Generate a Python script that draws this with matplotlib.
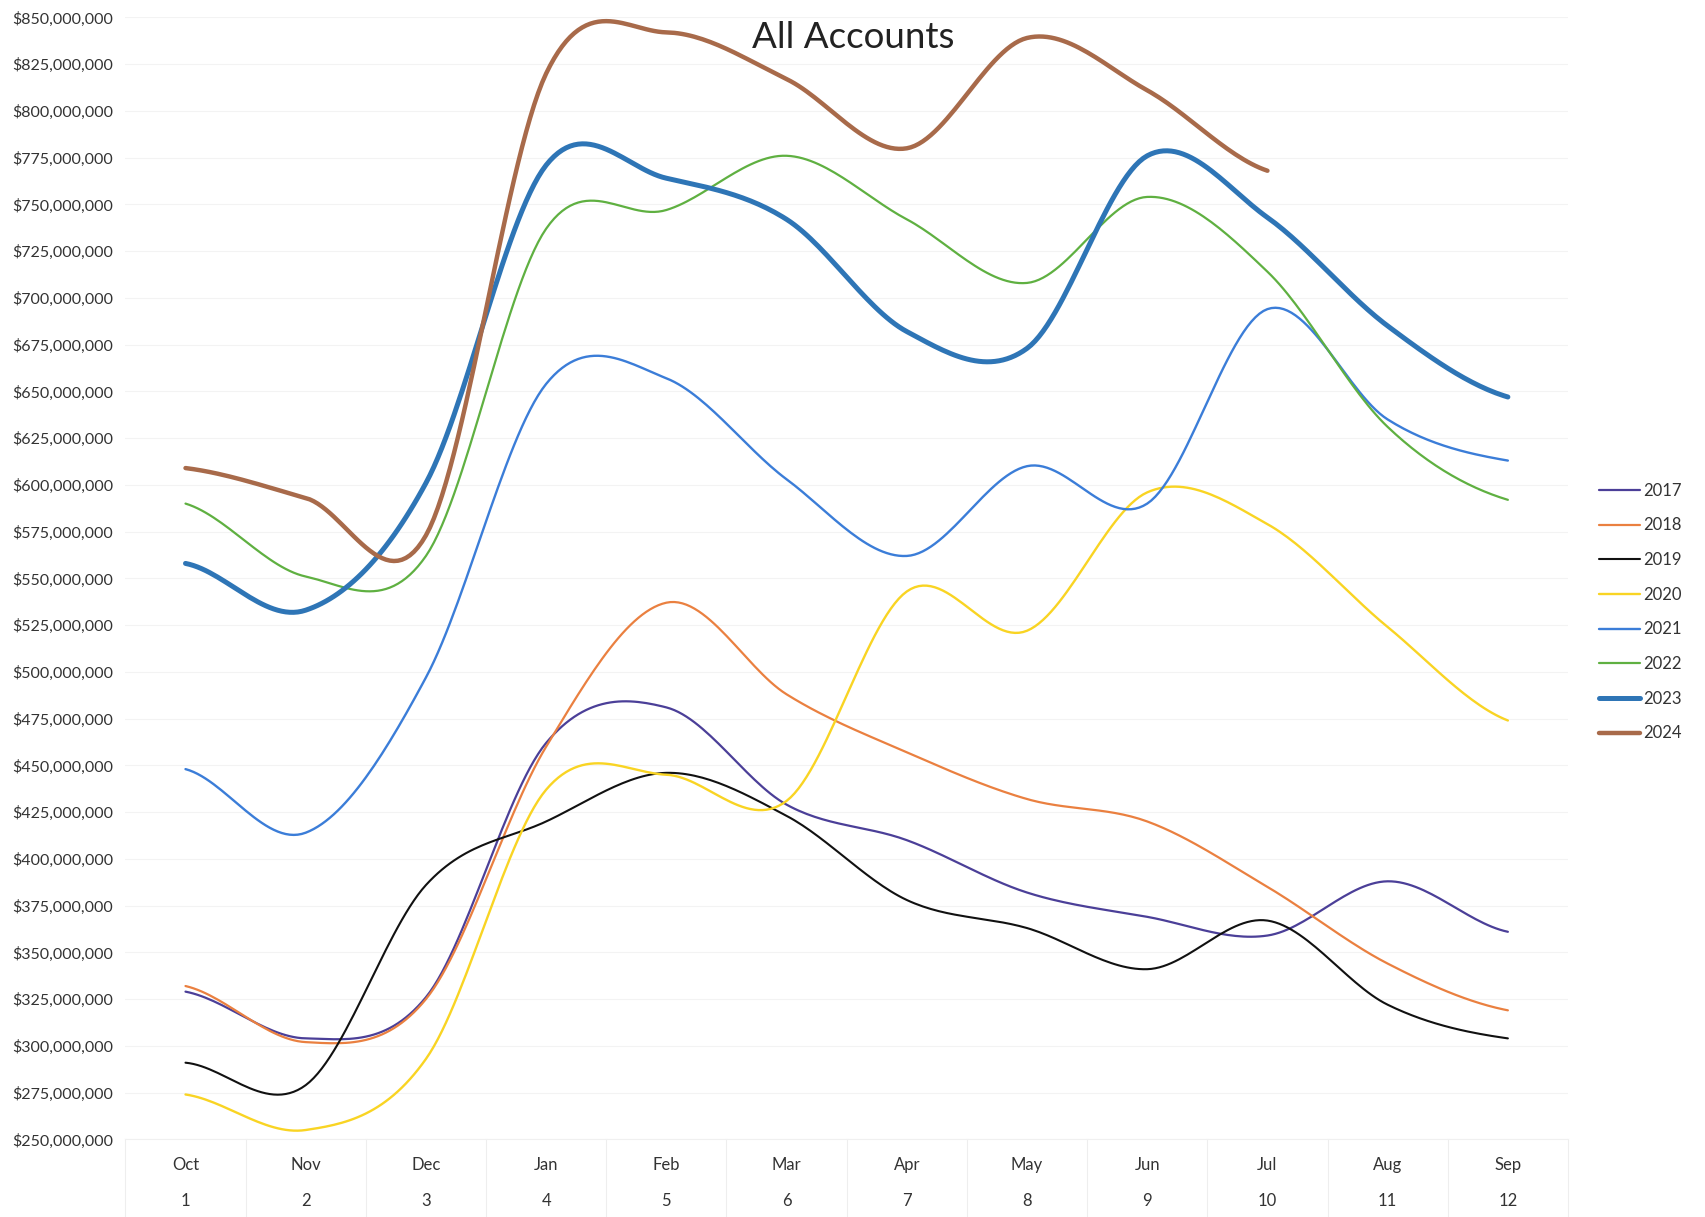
import numpy as np
import matplotlib
matplotlib.use("Agg")
import matplotlib.pyplot as plt
from matplotlib.ticker import FuncFormatter, MultipleLocator

# Chart data (values in millions of dollars, fiscal year Oct -> Sep)
months = ["Oct", "Nov", "Dec", "Jan", "Feb", "Mar", "Apr", "May", "Jun", "Jul", "Aug", "Sep"]
month_numbers = ["1", "2", "3", "4", "5", "6", "7", "8", "9", "10", "11", "12"]

y2017 = [329, 304, 326, 462, 481, 429, 410, 382, 369, 359, 388, 361]
y2018 = [332, 302, 325, 460, 537, 488, 457, 432, 420, 385, 344, 319]
y2019 = [291, 279, 386, 420, 446, 423, 378, 363, 341, 367, 322, 304]
y2020 = [274, 255, 293, 437, 445, 431, 543, 522, 596, 579, 524, 474]
y2021 = [448, 414, 497, 654, 657, 603, 562, 610, 590, 694, 635, 613]
y2022 = [590, 551, 562, 737, 747, 776, 742, 708, 754, 714, 631, 592]
y2023 = [558, 533, 601, 771, 764, 742, 682, 673, 776, 743, 685, 647]
y2024 = [609, 593, 573, 820, 842, 817, 780, 839, 811, 768]

series = [
    ("2017", y2017, "#4b3f98", 1.6),
    ("2018", y2018, "#ea8040", 1.6),
    ("2019", y2019, "#111111", 1.5),
    ("2020", y2020, "#f9d423", 1.7),
    ("2021", y2021, "#3b7dd8", 1.7),
    ("2022", y2022, "#5fb041", 1.6),
    ("2023", y2023, "#2e75b6", 3.6),
    ("2024", y2024, "#a86a4a", 3.2),
]


def smooth(values, steps=30):
    # Excel-style smoothed line (Catmull-Rom through every point)
    p = np.asarray(values, dtype=float)
    n = len(p)
    m = np.zeros(n)
    m[1:-1] = (p[2:] - p[:-2]) / 2
    m[0] = (p[1] - p[0]) / 2
    m[-1] = (p[-1] - p[-2]) / 2
    xs, ys = [], []
    t = np.linspace(0, 1, steps, endpoint=False)
    for i in range(n - 1):
        h00 = 2 * t**3 - 3 * t**2 + 1
        h10 = t**3 - 2 * t**2 + t
        h01 = -2 * t**3 + 3 * t**2
        h11 = t**3 - t**2
        ys.append(h00 * p[i] + h10 * m[i] + h01 * p[i + 1] + h11 * m[i + 1])
        xs.append(i + 1 + t)
    xs.append([n])
    ys.append([p[-1]])
    return np.concatenate(xs), np.concatenate(ys)


plt.rcParams["font.family"] = ["Lato", "DejaVu Sans"]

fig = plt.figure(figsize=(17.06, 12.17), dpi=100)
ax = fig.add_axes([0.0735, 0.0638, 0.8456, 0.9219])

for label, vals, color, lw in series:
    x, y = smooth(vals)
    ax.plot(x, y * 1e6, color=color, lw=lw, label=label, solid_capstyle="round")

ax.set_xlim(0.5, 12.5)
ax.set_ylim(250e6, 850e6)
ax.yaxis.set_major_locator(MultipleLocator(25e6))
ax.yaxis.set_major_formatter(FuncFormatter(lambda v, pos: "${:,.0f}".format(v)))
ax.tick_params(axis="y", length=0, pad=9, labelsize=11.5, labelcolor="#333333")
ax.set_xticks([])
ax.grid(axis="y", color="#f3f3f3", lw=0.8)
ax.set_axisbelow(True)
for s in ax.spines.values():
    s.set_visible(False)

# Two-row category axis (month name, month number)
xt = ax.get_xaxis_transform()
for i, (mname, mnum) in enumerate(zip(months, month_numbers)):
    ax.text(i + 1, -0.023, mname, transform=xt, ha="center", va="center",
            fontsize=12, color="#333333")
    ax.text(i + 1, -0.055, mnum, transform=xt, ha="center", va="center",
            fontsize=12, color="#333333")
for b in np.arange(0.5, 13, 1):
    ax.plot([b, b], [0, -0.07], transform=xt, color="#eeeeee", lw=0.8, clip_on=False)
ax.plot([0.5, 12.5], [0, 0], transform=xt, color="#f0f0f0", lw=0.8, clip_on=False)

fig.text(853 / 1706, 1 - 37 / 1217, "All Accounts", ha="center", va="center",
         fontsize=26.5, color="#222222")

ax.legend(loc="center left", bbox_to_anchor=(0.937, 0.497), bbox_transform=fig.transFigure,
          frameon=False, fontsize=12, handlelength=2.5, handletextpad=0.2,
          labelspacing=1.12, borderpad=0, borderaxespad=0, labelcolor="#333333")

fig.savefig("out.png", dpi=100)
